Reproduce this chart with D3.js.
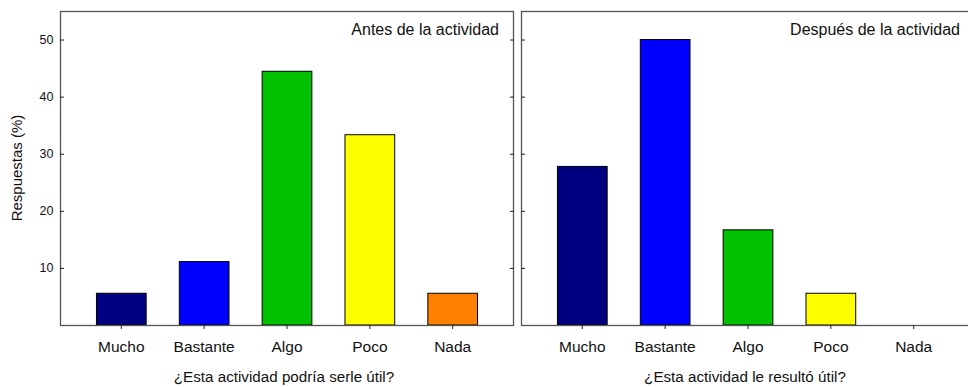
<!DOCTYPE html>
<html>
<head>
<meta charset="utf-8">
<script src="https://cdn.jsdelivr.net/npm/d3@7"></script>
<style>
  html, body { margin: 0; padding: 0; background: #fff; }
  svg { display: block; font-family: "Liberation Sans", Arial, sans-serif; }
</style>
</head>
<body>
<svg id="chart" width="968" height="387"></svg>
<script>
// Response categories and their bar colours
const categories = ["Mucho", "Bastante", "Algo", "Poco", "Nada"];
const barColors = ["#000080", "#0000ff", "#00c000", "#ffff00", "#ff8000"];

// Percent of responses, before and after the activity
const beforeValues = [5.56, 11.11, 44.44, 33.33, 5.56];
const afterValues = [27.78, 50.0, 16.67, 5.56, 0];

// Axis ticks and texts
const yTicks = [10, 20, 30, 40, 50];
const yLabel = "Respuestas (%)";
const panelTitles = ["Antes de la actividad", "Después de la actividad"];
const xTitles = ["¿Esta actividad podría serle útil?", "¿Esta actividad le resultó útil?"];

(function draw() {
  const svg = d3.select("#chart");
  const plotTop = 11, plotBottom = 325;
  const frameColor = "#555";

  const y = d3.scaleLinear().domain([0, 55]).range([plotBottom, plotTop]);

  const panels = [
    { left: 60, right: 514, values: beforeValues, title: panelTitles[0], xTitle: xTitles[0], yAxis: true },
    { left: 521, right: 975, values: afterValues, title: panelTitles[1], xTitle: xTitles[1], yAxis: false }
  ];

  panels.forEach(p => {
    const g = svg.append("g");
    const x = d3.scaleBand()
      .domain(categories)
      .range([p.left, p.right])
      .paddingInner(0.4)
      .paddingOuter(0.44);

    // bars
    g.selectAll("rect.bar")
      .data(categories.map((c, i) => ({ c, v: p.values[i], color: barColors[i] })).filter(d => d.v > 0))
      .join("rect")
      .attr("class", "bar")
      .attr("x", d => x(d.c))
      .attr("width", x.bandwidth())
      .attr("y", d => y(d.v))
      .attr("height", d => y(0) - y(d.v))
      .attr("fill", d => d.color)
      .attr("stroke", "#000")
      .attr("stroke-width", 1);

    // frame
    g.append("rect")
      .attr("x", p.left + 0.5)
      .attr("y", plotTop + 0.5)
      .attr("width", p.right - p.left - 1)
      .attr("height", plotBottom - plotTop)
      .attr("fill", "none")
      .attr("stroke", frameColor)
      .attr("stroke-width", 1.3);

    // x axis ticks (outward) and category labels
    const xAxis = d3.axisBottom(x).tickSizeInner(4).tickSizeOuter(0).tickPadding(12);
    const xg = g.append("g").attr("transform", `translate(0,${plotBottom})`).call(xAxis);
    xg.select(".domain").remove();
    xg.selectAll(".tick line").attr("stroke", "#222");
    xg.selectAll(".tick text")
      .attr("font-size", 15.5)
      .attr("fill", "#111")
      .attr("font-family", "Liberation Sans, Arial, sans-serif");

    // y ticks (inward) on both sides of the panel
    const yl = d3.axisRight(y).tickValues(yTicks).tickSizeInner(4).tickSizeOuter(0)
      .tickFormat(p.yAxis ? d3.format("d") : "");
    const ylg = g.append("g").attr("transform", `translate(${p.left},0)`).call(yl);
    ylg.select(".domain").remove();
    ylg.selectAll(".tick line").attr("stroke", "#222");
    ylg.selectAll(".tick text")
      .attr("x", -6.5)
      .attr("text-anchor", "end")
      .attr("font-size", 12.5)
      .attr("fill", "#111")
      .attr("font-family", "Liberation Sans, Arial, sans-serif");

    const yr = d3.axisLeft(y).tickValues(yTicks).tickSizeInner(4).tickSizeOuter(0).tickFormat("");
    const yrg = g.append("g").attr("transform", `translate(${p.right},0)`).call(yr);
    yrg.select(".domain").remove();
    yrg.selectAll(".tick line").attr("stroke", "#222");

    // panel title
    g.append("text")
      .attr("x", p.right - 15)
      .attr("y", 35)
      .attr("text-anchor", "end")
      .attr("font-size", 16)
      .attr("fill", "#111")
      .text(p.title);

    // x axis title
    g.append("text")
      .attr("x", (p.left + p.right) / 2 - 3)
      .attr("y", 382)
      .attr("text-anchor", "middle")
      .attr("font-size", 15.2)
      .attr("fill", "#111")
      .text(p.xTitle);
  });

  // y axis title
  svg.append("text")
    .attr("transform", `translate(22,${(plotTop + plotBottom) / 2}) rotate(-90)`)
    .attr("text-anchor", "middle")
    .attr("font-size", 15)
    .attr("fill", "#111")
    .text(yLabel);
})();
</script>
</body>
</html>
